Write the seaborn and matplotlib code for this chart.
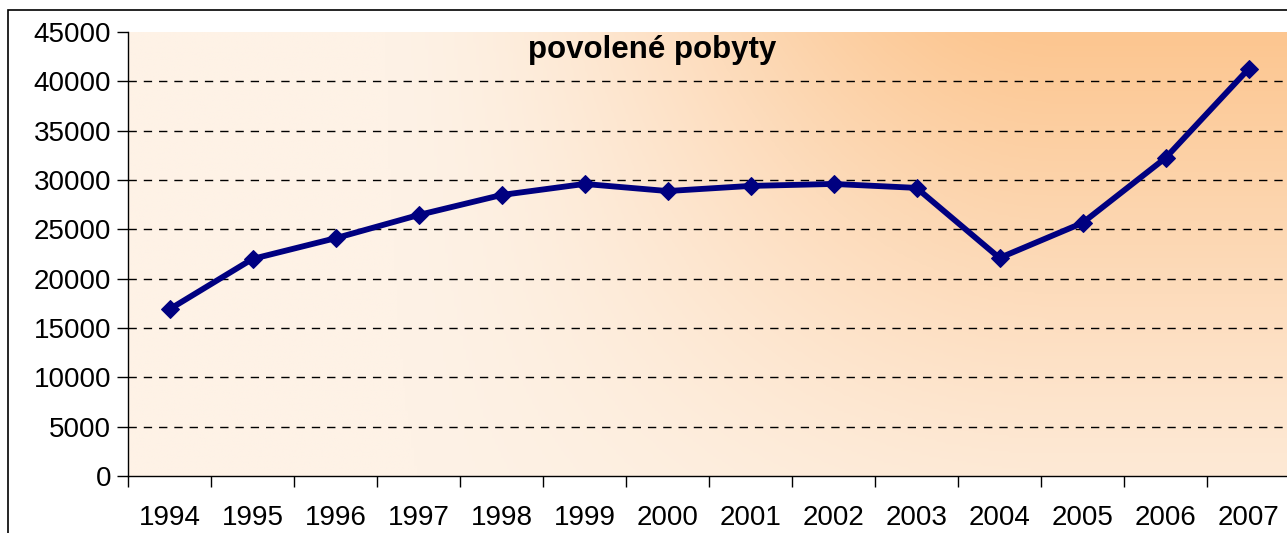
import numpy as np
import pandas as pd
import matplotlib
matplotlib.use("Agg")
import matplotlib.pyplot as plt
import seaborn as sns
from matplotlib.colors import LinearSegmentedColormap
from matplotlib.patches import Rectangle

# data
years = ['1994', '1995', '1996', '1997', '1998', '1999', '2000',
         '2001', '2002', '2003', '2004', '2005', '2006', '2007']
permits = [16900, 22000, 24100, 26450, 28480, 29600, 28880,
           29400, 29600, 29200, 22100, 25650, 32230, 41250]
y_ticks = list(range(0, 45001, 5000))

df = pd.DataFrame({'rok': years, 'pobyty': permits})

sns.set_style('white')
plt.rcParams['font.family'] = ['Liberation Sans', 'DejaVu Sans']
plt.rcParams['text.color'] = 'black'
plt.rcParams['xtick.color'] = 'black'
plt.rcParams['ytick.color'] = 'black'

fig = plt.figure(figsize=(12.87, 5.33), dpi=100)
ax = fig.add_axes([128 / 1287, 57 / 533, 1162 / 1287, 444 / 533])

# outer chart border (Excel chart area), cut off at right / bottom
fig.patches.append(Rectangle((8 / 1287, -0.1), 1.2, (533 - 10) / 533 + 0.1,
                             transform=fig.transFigure, fill=False,
                             edgecolor='black', linewidth=1.2, zorder=0))

# peach gradient background of the plot area
gx, gy = np.meshgrid(np.linspace(0, 1, 400), np.linspace(0, 1, 200))
sx = np.clip((gx - 0.2) / 0.6, 0, 1)
sx = sx * sx * (3 - 2 * sx)
t = sx * (0.2 + 0.8 * gy ** 1.1)
t = np.clip(t, 0, 1)
cmap = LinearSegmentedColormap.from_list('peach', ['#FEF2E6', '#FDDCBC', '#FCC690'])
ax.imshow(t, cmap=cmap, extent=(-0.5, 13.5, 0, 45000), origin='lower',
          aspect='auto', zorder=0, interpolation='bilinear')

sns.lineplot(data=df, x='rok', y='pobyty', ax=ax, color='#000080',
             linewidth=4.2, marker='D', markersize=9, markeredgecolor='#000080',
             zorder=3, sort=False)

ax.set_xlim(-0.5, 13.5)
ax.set_ylim(0, 45000)
ax.set_yticks(y_ticks)
ax.set_yticklabels([str(v) for v in y_ticks], fontsize=20)
for v in y_ticks[1:-1]:
    ax.axhline(v, color='black', linestyle=(0, (6, 5)), linewidth=1, zorder=1)

# category ticks at the boundaries, labels centred between them
ax.set_xticks(np.arange(-0.5, 14, 1))
ax.set_xticklabels([])
ax.set_xticks(range(len(years)), minor=True)
ax.set_xticklabels(years, minor=True, fontsize=20)
ax.tick_params(axis='x', which='major', length=8, width=1, direction='out', bottom=True)
ax.tick_params(axis='x', which='minor', length=0, pad=21)
ax.tick_params(axis='y', length=8, width=1, direction='out', left=True, pad=4)

ax.set_xlabel('')
ax.set_ylabel('')
for s in ['top', 'right']:
    ax.spines[s].set_visible(False)
for s in ['left', 'bottom']:
    ax.spines[s].set_color('black')
    ax.spines[s].set_linewidth(1)

fig.text(652 / 1287, 1 - 50 / 533, 'povolené pobyty', ha='center', va='center',
         fontsize=22.5, fontweight='bold', color='black')

fig.savefig('out.png', dpi=100)
